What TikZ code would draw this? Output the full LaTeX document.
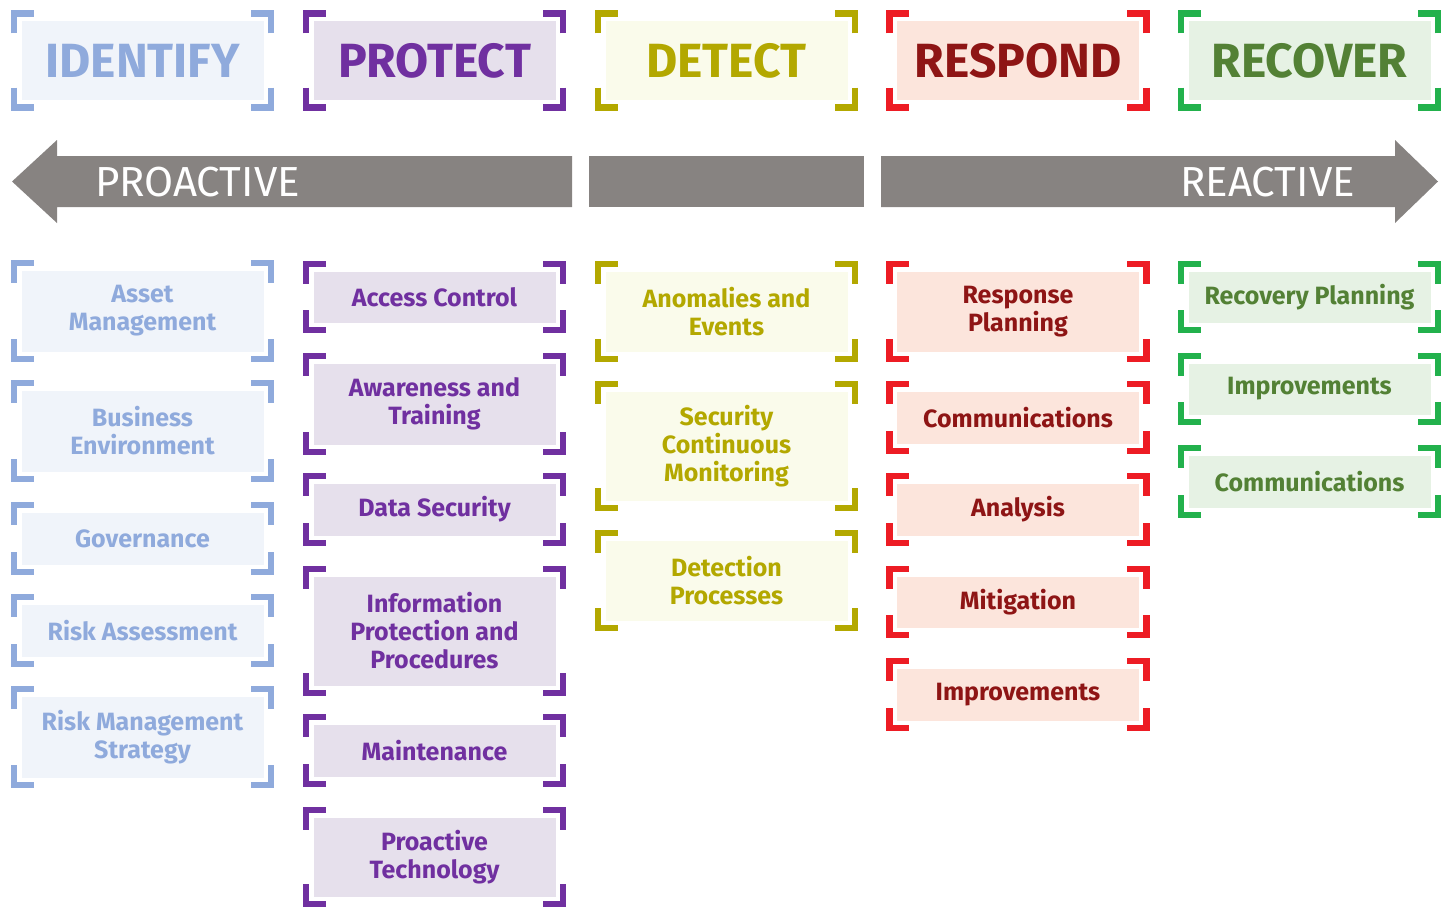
\documentclass[tikz,border=0pt]{standalone}
\usepackage{fontspec}
\setmainfont{Fira Sans}
\definecolor{idBr}{HTML}{8FAADC}\definecolor{idTx}{HTML}{8FAADC}\definecolor{idFl}{HTML}{F0F4FA}
\definecolor{prBr}{HTML}{7030A0}\definecolor{prTx}{HTML}{7030A0}\definecolor{prFl}{HTML}{E6E0EC}
\definecolor{deBr}{HTML}{B3A800}\definecolor{deTx}{HTML}{B3A800}\definecolor{deFl}{HTML}{FAFBEB}
\definecolor{reBr}{HTML}{ED1C24}\definecolor{reTx}{HTML}{8E1515}\definecolor{reFl}{HTML}{FCE5DC}
\definecolor{rcBr}{HTML}{22B14C}\definecolor{rcTx}{HTML}{538135}\definecolor{rcFl}{HTML}{E6F2E4}
\definecolor{band}{HTML}{878381}
\tikzset{
  boxbase/.style={inner sep=0pt, minimum width=242pt, align=center, font=\bfseries\fontsize{25}{28}\selectfont},
  headbase/.style={inner sep=0pt, minimum width=242pt, minimum height=79pt, align=center, font=\bfseries\fontsize{48}{52}\selectfont},
  brkbase/.style={line width=6.5pt, line cap=butt, line join=miter},
  idfill/.style={fill=idFl, text=idTx}, idbr/.style={brkbase, draw=idBr},
  prfill/.style={fill=prFl, text=prTx}, prbr/.style={brkbase, draw=prBr},
  defill/.style={fill=deFl, text=deTx}, debr/.style={brkbase, draw=deBr},
  refill/.style={fill=reFl, text=reTx}, rebr/.style={brkbase, draw=reBr},
  rcfill/.style={fill=rcFl, text=rcTx}, rcbr/.style={brkbase, draw=rcBr},
  bandtext/.style={text=white, font=\fontsize{42}{46}\selectfont, inner sep=0pt}
}
% brackets around a node: #1 node, #2 style
\newcommand\brk[2]{%
  \draw[#2] ([shift={(-7.25,-12.5)}]#1.north west) -- ([shift={(-7.25,7.25)}]#1.north west) -- ([shift={(12.5,7.25)}]#1.north west);
  \draw[#2] ([shift={(7.25,-12.5)}]#1.north east) -- ([shift={(7.25,7.25)}]#1.north east) -- ([shift={(-12.5,7.25)}]#1.north east);
  \draw[#2] ([shift={(-7.25,12.5)}]#1.south west) -- ([shift={(-7.25,-7.25)}]#1.south west) -- ([shift={(12.5,-7.25)}]#1.south west);
  \draw[#2] ([shift={(7.25,12.5)}]#1.south east) -- ([shift={(7.25,-7.25)}]#1.south east) -- ([shift={(-12.5,-7.25)}]#1.south east);
}
% #1 name, #2 center x, #3 outer top y, #4 outer height, #5 prefix, #6 text
\newcommand\cbox[6]{%
  \node[boxbase, #5fill, minimum height={#4-21}] (#1) at (#2,{-(#3)-(#4)/2}) {#6};
  \brk{#1}{#5br}
}
\newcommand\hdbox[4]{%
  \node[headbase, #3fill] (#1) at (#2,-60.5) {#4};
  \brk{#1}{#3br}
}
\begin{document}
\begin{tikzpicture}[x=1pt,y=1pt]
\useasboundingbox (0,0) rectangle (1448,-907);
% headers
\hdbox{hid}{142.5}{id}{IDENTIFY}
\hdbox{hpr}{434.5}{pr}{PROTECT}
\hdbox{hde}{726.5}{de}{DETECT}
\hdbox{hre}{1018}{re}{RESPOND}
\hdbox{hrc}{1309.5}{rc}{RECOVER}
% bands
\fill[band] (12,-181.5) -- (57,-140) -- (57,-156) -- (572,-156) -- (572,-207) -- (57,-207) -- (57,-223) -- cycle;
\fill[band] (589,-156) rectangle (864,-207);
\fill[band] (881,-156) -- (1395,-156) -- (1395,-140) -- (1438,-181.5) -- (1395,-223) -- (1395,-207) -- (881,-207) -- cycle;
\node[bandtext] (proactive) at (197.5,-182) {PROACTIVE};
\node[bandtext] (reactive) at (1267.5,-182) {REACTIVE};
% identify column
\cbox{i1}{142.5}{260}{102}{id}{Asset\\Management}
\cbox{i2}{142.5}{380}{102}{id}{Business\\Environment}
\cbox{i3}{142.5}{502}{73}{id}{Governance}
\cbox{i4}{142.5}{594}{73}{id}{Risk Assessment}
\cbox{i5}{142.5}{686}{102}{id}{Risk Management\\Strategy}
% protect column
\cbox{p1}{434.5}{261}{72}{pr}{Access Control}
\cbox{p2}{434.5}{353}{102}{pr}{Awareness and\\Training}
\cbox{p3}{434.5}{473}{73}{pr}{Data Security}
\cbox{p4}{434.5}{566}{130}{pr}{Information\\Protection and\\Procedures}
\cbox{p5}{434.5}{714}{73}{pr}{Maintenance}
\cbox{p6}{434.5}{807}{100}{pr}{Proactive\\Technology}
% detect column
\cbox{d1}{726.5}{261}{101}{de}{Anomalies and\\Events}
\cbox{d2}{726.5}{381}{130}{de}{Security\\Continuous\\Monitoring}
\cbox{d3}{726.5}{530}{101}{de}{Detection\\Processes}
% respond column
\cbox{r1}{1018}{261}{101}{re}{Response\\Planning}
\cbox{r2}{1018}{381}{73}{re}{Communications}
\cbox{r3}{1018}{473}{73}{re}{Analysis}
\cbox{r4}{1018}{566}{72}{re}{Mitigation}
\cbox{r5}{1018}{658}{73}{re}{Improvements}
% recover column
\cbox{c1}{1309.5}{261}{72}{rc}{Recovery Planning}
\cbox{c2}{1309.5}{353}{72}{rc}{Improvements}
\cbox{c3}{1309.5}{445}{73}{rc}{Communications}
\end{tikzpicture}
\end{document}
